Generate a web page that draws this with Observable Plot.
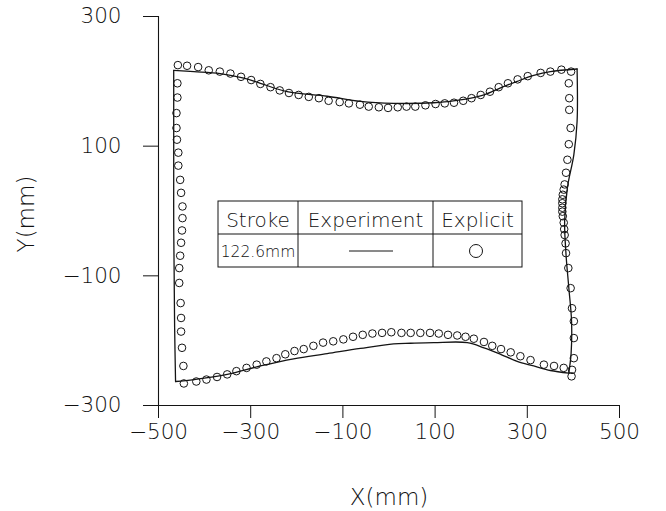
<!DOCTYPE html>
<html><head><meta charset="utf-8">
<script src="https://cdn.jsdelivr.net/npm/d3@7"></script>
<script src="https://cdn.jsdelivr.net/npm/@observablehq/plot@0.6"></script>
<style>
body{margin:0;background:#fff}
#chart{position:relative;width:666px;height:511px}
#chart svg text{font-weight:200}
</style>
</head><body><div id="chart"></div>
<script>
// Axis ticks
const xTicks = [-500, -300, -100, 100, 300, 500];
const yTicks = [-300, -100, 100, 300];

// Experiment (solid line), one array per edge, [x, y] in mm
const expTop = [[-467,217],[-423,215],[-366,212],[-315,205],[-279,197],[-221,184],[-134,177],[-62,169],[10,166],[97,167],[170,173],[206,179],[242,190],[278,200],[314,209],[350,215],[408,219]];
const expRight = [[408,219],[408,138],[401,87],[387,36],[381,-16],[384,-67],[390,-118],[396,-170],[395,-220],[390,-250]];
const expBottom = [[390,-250],[350,-246],[314,-239],[278,-232],[242,-221],[206,-211],[170,-203],[97,-203],[47,-204],[10,-205],[-62,-212],[-134,-220],[-207,-228],[-279,-239],[-351,-252],[-423,-260],[-463,-263]];
const expLeft = [[-463,-263],[-465,-180],[-466,-100],[-467,-20],[-467,60],[-467,140],[-467,217]];

// Explicit (circles)
const expliTop = [[-458,225],[-438,224],[-414,222],[-391,217],[-367,215],[-344,212],[-321,207],[-299,202],[-279,196],[-257,191],[-237,186],[-217,182],[-196,179],[-174,176],[-152,174],[-131,170],[-107,168],[-87,166],[-63,164],[-44,161],[-22,160],[-2,159],[19,160],[38,161],[57,161],[79,163],[101,165],[121,166],[141,167],[161,170],[179,174],[199,179],[219,184],[238,191],[258,197],[279,203],[301,208],[329,213],[350,215],[374,218],[395,215]];
const expliRight = [[390,197],[391,174],[391,156],[394,128],[390,103],[387,79],[384,59],[381,41],[379,33],[377,25],[376,18],[376,12],[376,5],[376,-1],[377,-8],[379,-18],[380,-28],[381,-37],[383,-50],[384,-65],[389,-88],[394,-119],[397,-150],[401,-170],[401,-196],[401,-227],[396,-255]];
const expliBottom = [[-445,-266],[-418,-263],[-396,-260],[-373,-256],[-351,-252],[-331,-247],[-309,-242],[-287,-237],[-266,-232],[-244,-227],[-225,-221],[-205,-216],[-185,-213],[-164,-208],[-143,-203],[-121,-201],[-99,-198],[-78,-194],[-57,-191],[-36,-189],[-15,-188],[5,-187],[27,-188],[47,-188],[68,-188],[89,-188],[108,-189],[128,-191],[148,-192],[166,-194],[184,-197],[206,-202],[224,-208],[243,-213],[264,-218],[285,-224],[307,-230],[336,-237],[358,-239],[379,-242],[397,-245]];
const expliLeft = [[-459,197],[-459,175],[-461,151],[-461,128],[-460,110],[-457,90],[-457,70],[-453,48],[-451,28],[-448,7],[-448,-11],[-449,-30],[-451,-49],[-453,-69],[-455,-88],[-455,-111],[-452,-142],[-451,-165],[-451,-186],[-449,-211],[-446,-239]];

// Legend table texts
const legendHeaders = ["Stroke", "Experiment", "Explicit"];
const legendStroke = "122.6mm";

const fmt = d => (d < 0 ? "\u2212" : "") + Math.abs(d);
const FONT = "DejaVu Sans, Verdana, sans-serif";
const INK = "#141414";
const TXT = "#111";

const expRows = [];
[["top", expTop], ["right", expRight], ["bottom", expBottom], ["left", expLeft]].forEach(([edge, arr]) =>
  arr.forEach(([x, y]) => expRows.push({x, y, edge})));
const expliRows = [...expliTop, ...expliRight, ...expliBottom, ...expliLeft].map(([x, y]) => ({x, y}));

const plot = Plot.plot({
  width: 666, height: 511,
  marginLeft: 158, marginRight: 47, marginTop: 16, marginBottom: 106,
  x: {domain: [-500, 500]},
  y: {domain: [-300, 300]},
  style: {fontFamily: FONT, background: "white", color: INK},
  marks: [
    Plot.ruleX([-500], {stroke: INK, strokeWidth: 1.1}),
    Plot.ruleY([-300], {stroke: INK, strokeWidth: 1.1}),
    Plot.axisX({ticks: xTicks, tickSize: 13, tickPadding: 5, fontSize: 21.5, tickFormat: fmt, label: null, stroke: INK, fill: TXT}),
    Plot.axisY({ticks: yTicks, tickSize: 15, tickPadding: 22, fontSize: 21.5, tickFormat: fmt, label: null, stroke: INK, fill: TXT}),
    Plot.line(expRows, {x: "x", y: "y", z: "edge", curve: "catmull-rom", stroke: INK, strokeWidth: 1.3}),
    Plot.dot(expliRows, {x: "x", y: "y", r: 3.8, stroke: INK, strokeWidth: 1, fill: "none"}),
    Plot.text(["X(mm)"], {text: d => d, frameAnchor: "bottom", lineAnchor: "middle", textAnchor: "middle", dy: 92, fontSize: 23, fill: TXT}),
    Plot.text(["Y(mm)"], {text: d => d, frameAnchor: "left", lineAnchor: "middle", textAnchor: "middle", dx: -132, dy: 3, rotate: -90, fontSize: 23, fill: TXT})
  ]
});

// Legend table
const svg = d3.select(plot);
const g = svg.append("g").attr("font-family", FONT).attr("fill", TXT);
const L = {x0: 218, x1: 298, x2: 433, x3: 522, y0: 201, y1: 234, y2: 267};
g.append("rect").attr("x", L.x0).attr("y", L.y0).attr("width", L.x3 - L.x0).attr("height", L.y2 - L.y0)
  .attr("fill", "white").attr("stroke", INK).attr("stroke-width", 1);
g.append("line").attr("x1", L.x0).attr("x2", L.x3).attr("y1", L.y1).attr("y2", L.y1).attr("stroke", INK);
g.append("line").attr("x1", L.x1).attr("x2", L.x1).attr("y1", L.y0).attr("y2", L.y2).attr("stroke", INK);
g.append("line").attr("x1", L.x2).attr("x2", L.x2).attr("y1", L.y0).attr("y2", L.y2).attr("stroke", INK);
const cx = [(L.x0 + L.x1) / 2, (L.x1 + L.x2) / 2, (L.x2 + L.x3) / 2];
legendHeaders.forEach((t, i) => {
  g.append("text").attr("x", cx[i]).attr("y", 227).attr("text-anchor", "middle")
    .attr("font-size", 20).text(t);
});
g.append("text").attr("x", cx[0]).attr("y", 257).attr("text-anchor", "middle")
  .attr("font-size", 15.5).text(legendStroke);
g.append("line").attr("x1", 349).attr("x2", 393).attr("y1", 251).attr("y2", 251).attr("stroke", INK).attr("stroke-width", 1);
g.append("circle").attr("cx", 476).attr("cy", 251).attr("r", 6.5).attr("fill", "none").attr("stroke", INK).attr("stroke-width", 1);

document.getElementById("chart").appendChild(plot);
</script>
</body></html>
